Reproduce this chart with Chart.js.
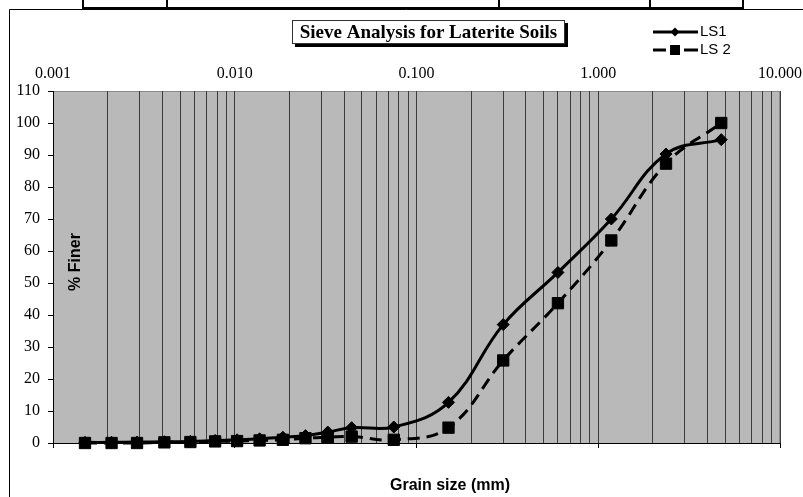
<!DOCTYPE html>
<html>
<head>
<meta charset="utf-8">
<script src="https://cdn.jsdelivr.net/npm/chart.js@4.4.1/dist/chart.umd.min.js"></script>
<style>
  html, body { margin: 0; padding: 0; background: #fff; }
  #wrap { width: 803px; height: 497px; }
</style>
</head>
<body>
<div id="wrap"><canvas id="grafico" width="803" height="497"></canvas></div>
<script>
// datos (tamiz + hidrometro)
const grainSize = [0.0015, 0.0021, 0.0029, 0.0041, 0.0057, 0.0078, 0.0103, 0.0137, 0.0184, 0.0245, 0.0325, 0.044, 0.075, 0.15, 0.3, 0.6, 1.18, 2.36, 4.75];
const ls1Finer = [0.2, 0.2, 0.3, 0.4, 0.5, 0.8, 1.0, 1.3, 1.8, 2.3, 3.4, 4.8, 5.0, 12.7, 37.0, 53.3, 70.0, 90.3, 94.8];
const ls2Finer = [0.0, 0.0, 0.0, 0.2, 0.3, 0.5, 0.6, 0.8, 1.0, 1.5, 1.8, 2.0, 1.0, 4.8, 25.8, 43.7, 63.3, 87.3, 100.0];
const seriesNames = ['LS1', 'LS 2'];
const decadeTicks = [0.001, 0.01, 0.1, 1, 10];
const yMin = 0, yMax = 110, yStep = 10;
const chartTitle = 'Sieve Analysis for Laterite Soils';
const xTitle = 'Grain size (mm)';
const yTitle = '% Finer';

// lineas de division menores 1..9 por decada
function minorTicks() {
  const out = [];
  for (let d = 0; d < decadeTicks.length - 1; d++) {
    for (let k = 1; k <= 9; k++) out.push(+(decadeTicks[d] * k).toPrecision(3));
  }
  out.push(decadeTicks[decadeTicks.length - 1]);
  return out;
}

function isDecade(v) {
  return decadeTicks.some(d => Math.abs(d - v) < d * 1e-6);
}

// fondo, marco y restos de la tabla de arriba
const fondoPlugin = {
  id: 'fondo',
  beforeDraw(chart) {
    const ctx = chart.ctx;
    const a = chart.chartArea;
    ctx.save();
    ctx.fillStyle = '#fff';
    ctx.fillRect(0, 0, chart.width, chart.height);

    ctx.strokeStyle = '#000';
    ctx.lineWidth = 2;
    [83, 167, 499, 650, 743].forEach(x => {
      ctx.beginPath(); ctx.moveTo(x, 0); ctx.lineTo(x, 9); ctx.stroke();
    });
    ctx.beginPath(); ctx.moveTo(82, 8); ctx.lineTo(744, 8); ctx.stroke();

    ctx.lineWidth = 1;
    ctx.beginPath();
    ctx.moveTo(9.5, chart.height);
    ctx.lineTo(9.5, 9.5);
    ctx.lineTo(chart.width, 9.5);
    ctx.stroke();

    ctx.fillStyle = '#b9b9b9';
    ctx.fillRect(a.left, a.top, a.right - a.left, a.bottom - a.top);
    ctx.strokeStyle = '#8a8a8a';
    ctx.strokeRect(a.left + 0.5, a.top + 0.5, a.right - a.left - 1, a.bottom - a.top);
    ctx.restore();
  }
};

// titulo con sombra, leyenda y titulos de ejes
const textosPlugin = {
  id: 'textos',
  afterDraw(chart) {
    const ctx = chart.ctx;
    ctx.save();

    // titulo
    ctx.fillStyle = '#000';
    ctx.fillRect(295, 23, 273, 24);
    ctx.fillStyle = '#fff';
    ctx.fillRect(292, 20, 273, 24);
    ctx.strokeStyle = '#333';
    ctx.lineWidth = 1;
    ctx.strokeRect(292.5, 20.5, 272, 23);
    ctx.fillStyle = '#000';
    ctx.font = 'bold 19px "Liberation Serif"';
    ctx.textAlign = 'center';
    ctx.textBaseline = 'middle';
    ctx.fillText(chartTitle, 428.5, 33);

    // leyenda
    ctx.strokeStyle = '#000';
    ctx.lineWidth = 3;
    ctx.beginPath(); ctx.moveTo(653, 32); ctx.lineTo(698, 32); ctx.stroke();
    ctx.beginPath();
    ctx.moveTo(675, 27.5); ctx.lineTo(679.5, 32); ctx.lineTo(675, 36.5); ctx.lineTo(670.5, 32);
    ctx.closePath(); ctx.fill();
    ctx.beginPath(); ctx.moveTo(653, 50); ctx.lineTo(666, 50); ctx.stroke();
    ctx.beginPath(); ctx.moveTo(684, 50); ctx.lineTo(698, 50); ctx.stroke();
    ctx.fillRect(670, 45, 10, 10);
    ctx.font = '15px "Liberation Sans", Arial';
    ctx.textAlign = 'left';
    ctx.fillText(seriesNames[0], 700, 32);
    ctx.fillText(seriesNames[1], 700, 50);

    // titulos de ejes
    ctx.font = 'bold 16px "Liberation Sans", Arial';
    ctx.textAlign = 'center';
    ctx.fillText(xTitle, 450, 486);
    ctx.translate(76, 262);
    ctx.rotate(-Math.PI / 2);
    ctx.fillText(yTitle, 0, 0);
    ctx.restore();
  }
};

function puntos(serie) {
  return grainSize.map((g, i) => ({ x: g, y: serie[i] }));
}

const ctx = document.getElementById('grafico').getContext('2d');
new Chart(ctx, {
  type: 'line',
  data: {
    datasets: [{
      label: seriesNames[0],
      data: puntos(ls1Finer),
      borderColor: '#000',
      backgroundColor: '#000',
      borderWidth: 3,
      tension: 0.4,
      pointStyle: 'rectRot',
      pointRadius: 6,
      pointBorderWidth: 1,
      clip: false
    }, {
      label: seriesNames[1],
      data: puntos(ls2Finer),
      borderColor: '#000',
      backgroundColor: '#000',
      borderWidth: 3,
      borderDash: [12, 7],
      tension: 0.4,
      pointStyle: 'rect',
      pointRadius: 8,
      pointBorderWidth: 1,
      clip: false
    }]
  },
  options: {
    responsive: false,
    animation: false,
    devicePixelRatio: 1,
    layout: { padding: { left: 9, right: 23, top: 0, bottom: 0 } },
    plugins: {
      legend: { display: false },
      title: { display: false },
      tooltip: { enabled: false }
    },
    scales: {
      x: {
        type: 'logarithmic',
        position: 'bottom',
        min: 0.001,
        max: 10,
        afterBuildTicks: s => { s.ticks = minorTicks().map(v => ({ value: v })); },
        afterFit: s => { s.height = 54; s.paddingLeft = 0; s.paddingRight = 0; },
        ticks: { display: false, autoSkip: false },
        grid: {
          color: '#3c3c3c',
          lineWidth: 1,
          drawTicks: true,
          tickLength: 5,
          tickColor: c => (c.tick && isDecade(c.tick.value)) ? '#000' : 'rgba(0,0,0,0)'
        },
        border: { display: true, color: '#000', width: 1 }
      },
      x2: {
        type: 'logarithmic',
        position: 'top',
        min: 0.001,
        max: 10,
        afterBuildTicks: s => { s.ticks = decadeTicks.map(v => ({ value: v })); },
        afterFit: s => { s.height = 91; s.paddingLeft = 0; s.paddingRight = 0; },
        ticks: {
          autoSkip: false,
          maxRotation: 0,
          padding: 8,
          color: '#000',
          font: { family: '"Liberation Serif"', size: 16 },
          callback: v => Number(v).toFixed(3)
        },
        grid: { display: false, drawTicks: false },
        border: { display: false }
      },
      y: {
        min: yMin,
        max: yMax,
        afterFit: s => { s.width = 44; },
        ticks: {
          stepSize: yStep,
          padding: 8,
          color: '#000',
          font: { family: '"Liberation Serif"', size: 16 }
        },
        grid: { drawOnChartArea: false, drawTicks: true, tickLength: 5, tickColor: '#000' },
        border: { display: true, color: '#000', width: 1 }
      }
    }
  },
  plugins: [fondoPlugin, textosPlugin]
});
</script>
</body>
</html>
